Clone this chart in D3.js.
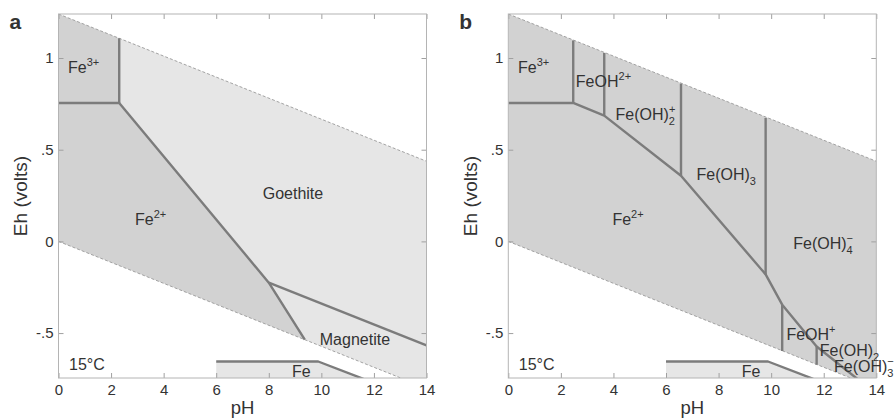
<!DOCTYPE html>
<html>
<head>
<meta charset="utf-8">
<script src="https://cdn.jsdelivr.net/npm/d3@7"></script>
<style>
  body { margin: 0; background: #fff; }
  text { font-family: "Liberation Sans", Arial, sans-serif; fill: #333; }
</style>
</head>
<body>
<div id="chart"></div>
<script>
// axis ticks
const pHTicks = [0, 2, 4, 6, 8, 10, 12, 14]
const ehTicks = [-0.5, 0, 0.5, 1]
const ehTickLabels = ['-.5', '0', '.5', '1']
const pHDomain = [0, 14]
const ehDomain = [-0.745, 1.24]

// water stability limits (pH, Eh)
const upperWater = [[0, 1.24], [14, 0.437]]
const lowerWater = [[0, 0], [14, -0.801]]

// metallic iron field, same in both panels
const feLine = [[6, -0.655], [9.88, -0.655], [11.6, -0.75]]
const feArea = [[6, -0.76], [6, -0.655], [9.88, -0.655], [11.6, -0.76]]

// panel a: solids present
const aFe3Area = [[0, 1.24], [2.31, 1.108], [2.31, 0.755], [0, 0.755]]
const aFe2Area = [[0, 0.755], [2.31, 0.755], [8.0, -0.225], [9.37, -0.536], [0, 0]]
const aSolidArea = [[2.31, 1.108], [14, 0.437], [14, -0.801], [9.37, -0.536], [8.0, -0.225], [2.31, 0.755]]
const aLines = [
  [[2.31, 1.108], [2.31, 0.755]],
  [[0, 0.755], [2.31, 0.755], [8.0, -0.225], [9.37, -0.536]],
  [[8.0, -0.225], [14, -0.567]]
]
const aLabels = [
  { pH: 0.36, eh: 0.92, parts: [['Fe'], ['3+', 'sup']] },
  { pH: 8.92, eh: 0.233, anchor: 'middle', parts: [['Goethite']] },
  { pH: 2.91, eh: 0.091, parts: [['Fe'], ['2+', 'sup']] },
  { pH: 9.94, eh: -0.567, parts: [['Magnetite']] },
  { pH: 8.88, eh: -0.737, parts: [['Fe']] },
  { pH: 0.40, eh: -0.70, parts: [['15°C']] }
]

// panel b: solids suppressed
const bWaterArea = [[0, 1.24], [14, 0.437], [14, -0.801], [0, 0]]
const bLines = [
  [[0, 0.755], [2.47, 0.755], [3.65, 0.686], [6.57, 0.358], [9.79, -0.18], [10.42, -0.345], [11.73, -0.573], [13.5, -0.775]],
  [[2.47, 1.096], [2.47, 0.755]],
  [[3.65, 1.028], [3.65, 0.686]],
  [[6.57, 0.86], [6.57, 0.358]],
  [[9.79, 0.673], [9.79, -0.18]],
  [[10.42, -0.345], [10.42, -0.598]],
  [[11.73, -0.573], [11.73, -0.673]]
]
const bLabels = [
  { pH: 0.37, eh: 0.92, parts: [['Fe'], ['3+', 'sup']] },
  { pH: 2.57, eh: 0.844, parts: [['FeOH'], ['2+', 'sup']] },
  { pH: 4.08, eh: 0.664, parts: [['Fe(OH)'], ['2', 'sub'], ['+', 'supback']] },
  { pH: 7.16, eh: 0.336, parts: [['Fe(OH)'], ['3', 'sub']] },
  { pH: 3.96, eh: 0.091, parts: [['Fe'], ['2+', 'sup']] },
  { pH: 10.84, eh: -0.041, parts: [['Fe(OH)'], ['4', 'sub'], ['−', 'supback']] },
  { pH: 10.58, eh: -0.540, parts: [['FeOH'], ['+', 'sup']] },
  { pH: 11.85, eh: -0.627, parts: [['Fe(OH)'], ['2', 'sub']] },
  { pH: 12.39, eh: -0.714, parts: [['Fe(OH)'], ['3', 'sub'], ['−', 'supback']] },
  { pH: 8.88, eh: -0.737, parts: [['Fe']] },
  { pH: 0.40, eh: -0.70, parts: [['15°C']] }
]

const width = 895
const height = 419
const dark = '#d2d2d2'
const light = '#e6e6e6'
const lineColor = '#7c7c7c'
const fontFamily = '"Liberation Sans", Arial, sans-serif'

const svg = d3.select('#chart')
  .append('svg')
  .attr('width', width)
  .attr('height', height)
  .attr('viewBox', [0, 0, width, height])

function drawPanel (left, letter, areas, lines, labels) {
  const right = left + 368
  const top = 14
  const bottom = 378

  const x = d3.scaleLinear().domain(pHDomain).range([left, right])
  const y = d3.scaleLinear().domain(ehDomain).range([bottom, top])
  const line = d3.line().x(d => x(d[0])).y(d => y(d[1]))
  const closed = d3.line().x(d => x(d[0])).y(d => y(d[1])).curve(d3.curveLinearClosed)

  const clipId = 'clip-' + letter
  svg.append('clipPath').attr('id', clipId)
    .append('rect')
    .attr('x', left).attr('y', top)
    .attr('width', right - left).attr('height', bottom - top)

  const plot = svg.append('g').attr('clip-path', `url(#${clipId})`)

  areas.forEach(a => {
    plot.append('path')
      .datum(a.points)
      .attr('fill', a.fill)
      .attr('d', closed)
  })

  // water limits
  ;[upperWater, lowerWater].forEach(w => {
    plot.append('path')
      .datum(w)
      .attr('fill', 'none')
      .attr('stroke', '#9a9a9a')
      .attr('stroke-width', 0.9)
      .attr('stroke-dasharray', '3,2')
      .attr('d', line)
  })

  lines.concat([feLine]).forEach(l => {
    plot.append('path')
      .datum(l)
      .attr('fill', 'none')
      .attr('stroke', lineColor)
      .attr('stroke-width', 2.4)
      .attr('stroke-linejoin', 'round')
      .attr('d', line)
  })

  // axes: inward ticks on all sides, MATLAB style
  const tickColor = '#a0a0a0'
  const styleTicks = g => g.selectAll('text')
    .attr('font-size', 15).attr('fill', '#333').attr('font-family', fontFamily)

  svg.append('g')
    .attr('transform', `translate(0,${bottom})`)
    .call(d3.axisBottom(x).tickValues(pHTicks).tickSizeInner(-5).tickSizeOuter(0).tickPadding(6))
    .call(g => g.select('.domain').remove())
    .call(g => g.selectAll('line').attr('stroke', tickColor))
    .call(styleTicks)
  svg.append('g')
    .attr('transform', `translate(0,${top})`)
    .call(d3.axisTop(x).tickValues(pHTicks).tickSizeInner(-5).tickSizeOuter(0).tickFormat(''))
    .call(g => g.select('.domain').remove())
    .call(g => g.selectAll('line').attr('stroke', tickColor))
  svg.append('g')
    .attr('transform', `translate(${left},0)`)
    .call(d3.axisLeft(y).tickValues(ehTicks).tickSizeInner(-5).tickSizeOuter(0).tickPadding(5)
      .tickFormat((d, i) => ehTickLabels[i]))
    .call(g => g.select('.domain').remove())
    .call(g => g.selectAll('line').attr('stroke', tickColor))
    .call(styleTicks)
  svg.append('g')
    .attr('transform', `translate(${right},0)`)
    .call(d3.axisRight(y).tickValues(ehTicks).tickSizeInner(-5).tickSizeOuter(0).tickFormat(''))
    .call(g => g.select('.domain').remove())
    .call(g => g.selectAll('line').attr('stroke', tickColor))

  svg.append('rect')
    .attr('x', left).attr('y', top)
    .attr('width', right - left).attr('height', bottom - top)
    .attr('fill', 'none')
    .attr('stroke', '#b4b4b4')
    .attr('stroke-width', 1)

  // region labels, with chemical super/subscripts
  labels.forEach(lb => {
    const t = svg.append('text')
      .attr('x', x(lb.pH))
      .attr('y', y(lb.eh))
      .attr('font-size', 16)
      .attr('text-anchor', lb.anchor || 'start')
    let shift = 0
    let lastW = 0
    lb.parts.forEach(([s, kind]) => {
      const sp = t.append('tspan').text(s)
      if (kind === 'sup') {
        sp.attr('font-size', 11).attr('dy', -7 - shift); shift = -7
      } else if (kind === 'sub') {
        sp.attr('font-size', 11).attr('dy', 5 - shift); shift = 5
        lastW = s.length * 6.1
      } else if (kind === 'supback') {
        sp.attr('font-size', 11).attr('dx', -lastW).attr('dy', -12); shift = -7
      } else {
        sp.attr('dy', -shift); shift = 0
      }
    })
  })

  svg.append('text')
    .attr('x', (left + right) / 2)
    .attr('y', 414)
    .attr('text-anchor', 'middle')
    .attr('font-size', 18.5)
    .text('pH')

  svg.append('text')
    .attr('transform', `translate(${left - 31.5},${(top + bottom) / 2}) rotate(-90)`)
    .attr('text-anchor', 'middle')
    .attr('font-size', 19)
    .text('Eh (volts)')

  svg.append('text')
    .attr('x', left - 49)
    .attr('y', 29)
    .attr('font-size', 21)
    .attr('font-weight', 'bold')
    .attr('fill', '#111')
    .text(letter)
}

drawPanel(58.5, 'a', [
  { points: aFe3Area, fill: dark },
  { points: aFe2Area, fill: dark },
  { points: aSolidArea, fill: light },
  { points: feArea, fill: light }
], aLines, aLabels)

drawPanel(508.3, 'b', [
  { points: bWaterArea, fill: dark },
  { points: feArea, fill: light }
], bLines, bLabels)
</script>
</body>
</html>
